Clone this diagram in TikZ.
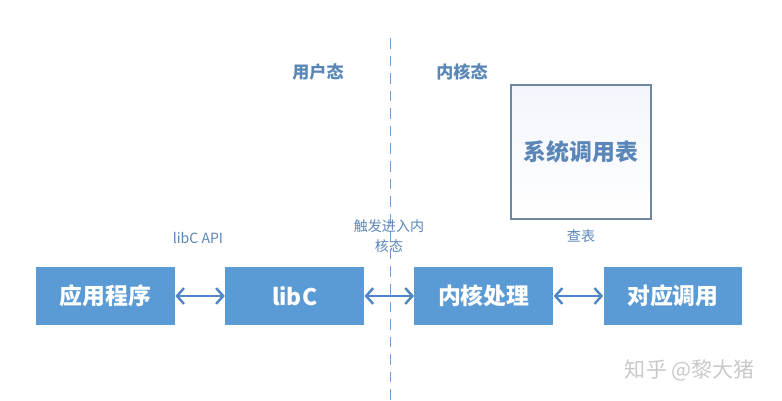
\documentclass[tikz,border=0pt]{standalone}
\usepackage{fontspec}
\setmainfont{Noto Sans CJK SC}
\usepackage{tikz}
\usetikzlibrary{arrows.meta,positioning,calc}
\definecolor{BoxBlue}{HTML}{5B9BD5}
\definecolor{LinkBlue}{HTML}{4F86C6}
\definecolor{LabelBlue}{HTML}{5A86B8}
\definecolor{TableEdge}{HTML}{6F88A2}
\definecolor{TableTop}{HTML}{F2F6FC}
\definecolor{Mark}{HTML}{C9C9C9}

\begin{document}
\begin{tikzpicture}[x=0.02cm,y=-0.02cm,
    stagebox/.style={fill=BoxBlue,text=white,font=\bfseries\fontsize{13}{14}\selectfont,
      minimum width=2.78cm,minimum height=1.16cm,inner sep=0pt},
    link/.style={LinkBlue,line width=1.4pt,{Straight Barb[length=4pt,width=9pt]}-{Straight Barb[length=4pt,width=9pt]}},
    side/.style={text=LabelBlue,font=\bfseries\fontsize{9.7}{11}\selectfont},
    note/.style={text=LabelBlue,font=\fontsize{8}{11}\selectfont,align=center}]
  \useasboundingbox (0,0) rectangle (782,401);
  % user / kernel border
  \draw[LinkBlue!80,dashed,dash pattern=on 6pt off 4pt] (390,38) -- (390,401);
  \node[side] (user) at (318,72) {用户态};
  \node[side] (kernel) at (462,72) {内核态};
  % syscall table
  \node[draw=TableEdge,line width=0.7pt,top color=TableTop,bottom color=white,
    minimum width=2.8cm,minimum height=2.68cm,inner sep=0pt,
    text=LabelBlue,font=\bfseries\fontsize{13}{14}\selectfont] (table) at (581,152) {系统调用表};
  % main row
  \node[stagebox] (app) at (105.5,296) {应用程序};
  \node[stagebox,right=0.99cm of app] (libc) {libC};
  \node[stagebox,right=0.99cm of libc] (proc) {内核处理};
  \node[stagebox,right=0.99cm of proc] (call) {对应调用};
  \draw[link] (app) -- (libc);
  \draw[link] (libc) -- (proc);
  \draw[link] (proc) -- (call);
  \node[note] (api) at (198,238) {libC API};
  \node[note] (trap) at (389,236) {触发进入内\\核态};
  \node[note] (look) at (581,236) {查表};
  \node[text=Mark,font=\fontsize{12}{14}\selectfont] (mark) at (690,370) {知乎 @黎大猪};
\end{tikzpicture}
\end{document}
